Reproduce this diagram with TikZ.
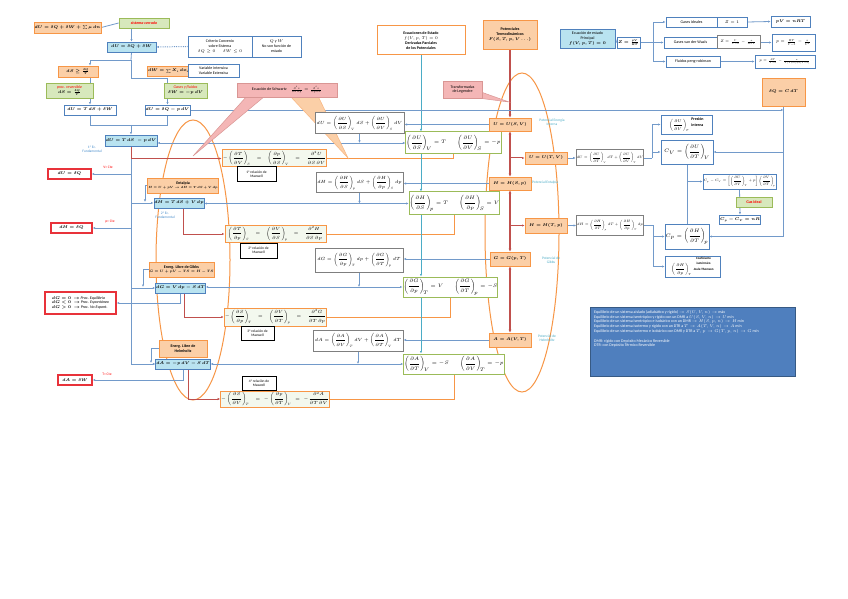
\RequirePackage{fix-cm}
\documentclass[tikz,border=0pt]{standalone}
\usepackage{amsmath}
\usepackage{fontspec}
\setmainfont{Carlito}
\usetikzlibrary{arrows.meta}
\pgfdeclarelayer{bg}
\pgfsetlayers{bg,main}
\definecolor{orgF}{HTML}{FBCFA7}
\definecolor{orgB}{HTML}{F79646}
\definecolor{cynF}{HTML}{B9E3F0}
\definecolor{bluB}{HTML}{4F81BD}
\definecolor{grnF}{HTML}{D7E8BC}
\definecolor{grnB}{HTML}{9BBB59}
\definecolor{redB}{HTML}{E8323A}
\definecolor{redL}{HTML}{C0504D}
\definecolor{mxF}{HTML}{F3F8EE}
\definecolor{gryB}{HTML}{7F7F7F}
\definecolor{pnkF}{HTML}{F4B6B6}
\definecolor{pnkB}{HTML}{D99694}
\definecolor{cyanL}{HTML}{4BACC6}
\definecolor{lblu}{HTML}{4A8FCC}
\definecolor{boxF}{HTML}{4F7FBE}
\newcommand\pdr[3]{\left(\dfrac{\partial #1}{\partial #2}\right)_{\!#3}}
\newcommand\mybox[7]{\node[#2,minimum width={(#5-#3)*1bp},minimum height={(#6-#4)*1bp}] (#1) at ({(#3+#5)/2},{(#4+#6)/2}) {#7};}
\tikzset{
 f3/.style={font=\fontsize{3.2}{3.8}\selectfont},
 f35/.style={font=\fontsize{3.6}{4.3}\selectfont},
 f4/.style={font=\fontsize{4}{4.9}\selectfont},
 bm4/.style={font=\fontsize{4}{4.9}\selectfont\boldmath},
 f45/.style={font=\fontsize{4.5}{5.4}\selectfont},
 f5/.style={font=\fontsize{5}{6}\selectfont},
 base/.style={draw, inner sep=0.5bp, align=center, f4, line width=0.8bp},
 org/.style={base, draw=orgB, fill=orgF, bm4},
 orw/.style={base, draw=orgB, fill=white, line width=1bp},
 cyn/.style={base, draw=bluB, fill=cynF, bm4},
 blu/.style={base, draw=bluB, fill=white},
 grn/.style={base, draw=grnB, fill=grnF, bm4},
 redbox/.style={base, draw=redB, fill=white, line width=1.3bp, bm4},
 mx/.style={base, draw=orgB, fill=mxF, line width=1bp, f45},
 gry/.style={base, draw=gryB, fill=white, line width=1bp, f45},
 gbox/.style={base, draw=grnB, fill=white, line width=1bp, f5},
 lbl/.style={base, draw=black, fill=white, line width=1bp, f35},
 pnk/.style={base, draw=pnkB, fill=pnkF, line width=0.5bp},
 txt/.style={inner sep=0pt, align=center, f35},
 conn/.style={draw=bluB!80, line width=0.8bp},
 arr/.style={conn, -{Latex[length=2.5bp,width=2.2bp]}},
 darr/.style={conn, {Latex[length=2.5bp,width=2.2bp]}-{Latex[length=2.5bp,width=2.2bp]}},
 redl/.style={draw=redL, line width=1bp},
 redarr/.style={draw=redL, line width=1.6bp, {Latex[length=3bp,width=3bp]}-{Latex[length=3bp,width=3bp]}},
 orl/.style={draw=orgB, line width=1bp},
}
\begin{document}
\begin{tikzpicture}[x=1bp,y=-1bp]
\useasboundingbox (0,0) rectangle (848,599);
% callout wedges (behind nodes)
\fill[pnkF, draw=pnkB, line width=0.5bp] (247,96) -- (193,156) -- (265,96) -- cycle;
\fill[orgF, draw=orgB!70, line width=0.5bp] (290,96) -- (348,158) -- (318,96) -- cycle;
\fill[pnkF, draw=pnkB, line width=0.5bp] (470,97) -- (509,102) -- (481,92) -- cycle;

% ---------- left column ----------
\mybox{eq0}{org}{35}{22}{100}{33}{$dU=\delta Q+\delta W+\sum\mu\,dn$}
\mybox{sc}{grn}{119}{18}{169}{28}{\textcolor{red}{\itshape\bfseries sistema cerrado}}
\mybox{eq1}{cyn}{107}{42}{156}{52}{$dU=\delta Q+\delta W$}
\mybox{crit}{blu}{188}{36}{252}{57}{Criterio Convenio\\sobre Sistema\\$\delta Q\ge0\qquad\delta W\le0$}
\mybox{qw}{blu}{252}{36}{301}{57}{$Q$ y $W$\\No son función de\\estado}
\mybox{ds}{org}{58}{66}{98}{77}{$dS\ge\frac{\delta Q}{T}$}
\mybox{dw}{org}{150}{66}{187}{76}{$dW=\sum X_i\,dx_i$}
\mybox{vi}{blu}{188}{64}{239}{77}{Variable intensiva\\Variable Extensiva}
\mybox{pr}{grn}{46}{83}{93}{98}{\textcolor{red}{\itshape proc. reversible}\\$dS=\frac{\delta Q}{T}$}
\mybox{gf}{grn}{164}{83}{207}{98}{\textcolor{red}{\itshape Gases y fluidos}\\$\delta W=-p\,dV$}
\mybox{e2}{blu, bm4}{64}{105}{116}{115}{$dU=T\,dS+\delta W$}
\mybox{e3}{blu, bm4}{145}{105}{190}{115}{$dU=\delta Q-p\,dV$}
\mybox{f1}{cyn}{105}{135}{157}{146}{$dU=T\,dS\;-p\,dV$}
\node[txt, text=lblu] (l1f) at (92,149) {1ª Ec.\\Fundamental};
\mybox{rU}{redbox}{48}{169}{91}{179}{$dU=\delta Q$}
\node[txt, text=red] (vc) at (108,167) {V= Cte};
\mybox{ent}{org}{158}{178}{208}{193}{\textbf{Entalpía}\\{\fontsize{3}{3.5}\selectfont$H=U+pV\to dH=T\,dS+V\,dp$}}
\mybox{f2}{cyn}{158}{198}{200}{208}{$dH=T\,dS+V\,dp$}
\node[txt, text=lblu] (l2f) at (165,215) {2ª Ec.\\Fundamental};
\mybox{rH}{redbox}{51}{223}{92}{233}{$dH=\delta Q$}
\node[txt, text=red] (pc) at (110,222) {p= Cte};
\mybox{gib}{org}{158}{262}{205}{277}{\textbf{Energ. Libre de Gibbs}\\{\fontsize{3.3}{3.8}\selectfont$G=U+pV-TS=H-TS$}}
\mybox{f3}{cyn}{158}{283}{203}{293}{$dG=V\,dp-S\,dT$}
\mybox{rG}{redbox}{45}{292}{116}{314}{\begin{tabular}{@{}l@{}}$dG=0\ \to$ \textit{Proc. Equilibrio}\\ $dG<0\ \to$ \textit{Proc. Espontáneo}\\ $dG>0\ \to$ \textit{Proc. No Espont.}\end{tabular}}
\mybox{hel}{org}{159}{340}{207}{357}{\textbf{Energ. Libre de}\\\textbf{Helmholtz}}
\mybox{f4}{cyn}{158}{359}{208}{369}{$dA=-p\,dV-S\,dT$}
\mybox{rA}{redbox}{58}{375}{92}{385}{$dA=\delta W$}
\node[txt, text=red] (tc) at (107,374) {T= Cte};

% ---------- Maxwell ----------
\mybox{m1}{mx}{224}{150}{325}{167}{$-\pdr{T}{V}{S}\quad=\quad\pdr{p}{S}{V}\quad=\quad\dfrac{\partial^2 U}{\partial S\,\partial V}$}
\mybox{l1}{lbl}{237}{167}{276}{182}{1ª relación de\\Maxwell}
\mybox{m2}{mx}{225}{226}{326}{242}{$\pdr{T}{p}{S}\quad=\quad\pdr{V}{S}{p}\quad=\quad\dfrac{\partial^2 H}{\partial S\,\partial p}$}
\mybox{l2}{lbl}{240}{243}{277}{258}{2ª relación de\\Maxwell}
\mybox{m3}{mx}{226}{308}{325}{326}{$-\pdr{S}{p}{T}\quad=\quad\pdr{V}{T}{p}\quad=\quad\dfrac{\partial^2 G}{\partial T\,\partial p}$}
\mybox{l3}{lbl}{241}{326}{274}{340}{3ª relación de\\Maxwell}
\mybox{m4}{mx}{225}{391}{325}{407}{$-\pdr{S}{V}{T}\quad=\;-\pdr{p}{T}{V}\;=\;-\dfrac{\partial^2 A}{\partial T\,\partial V}$}
\mybox{l4}{lbl}{242}{376}{276}{390}{4ª relación de\\Maxwell}

% ---------- differential forms ----------
\mybox{d1}{gry}{315}{113}{404}{134}{$dU=\pdr{U}{S}{V}dS+\pdr{U}{V}{S}dV$}
\mybox{d2}{gry}{316}{173}{403}{193}{$dH=\pdr{H}{S}{p}dS+\pdr{H}{p}{S}dp$}
\mybox{d3}{gry}{315}{248}{403}{272}{$dG=\pdr{G}{p}{T}dp+\pdr{G}{T}{p}dT$}
\mybox{d4}{gry}{313}{330}{403}{351}{$dA=\pdr{A}{V}{T}dV+\pdr{A}{T}{V}dT$}

\mybox{g1}{gbox}{412}{132}{495}{154}{$\pdr{U}{S}{V}=T\qquad\pdr{U}{V}{S}=-p$}
\mybox{g2}{gbox}{412}{192}{497}{215}{$\pdr{H}{S}{p}=T\qquad\pdr{H}{p}{S}=V$}
\mybox{g3}{gbox}{409}{277}{492}{297}{$\pdr{G}{p}{T}=V\qquad\pdr{G}{T}{p}=-S$}
\mybox{g4}{gbox}{412}{354}{496}{374}{$\pdr{A}{T}{V}=-S\qquad\pdr{A}{V}{T}=-p$}

% ---------- top centre ----------
\mybox{ee}{orw}{377}{26}{465}{55}{\textbf{Ecuaciones de Estado}\\$f(V,p,T)=0$\\\textbf{Derivadas Parciales}\\\textbf{de los Potenciales}}
\mybox{pt}{org}{483}{20}{537}{49}{\textbf{Potenciales}\\\textbf{Termodinámicos}\\$F(S,T,p,V\ldots)$}
\mybox{leg}{pnk}{443}{81}{482}{98}{Transformadas\\de Legendre}
\mybox{sch}{pnk}{237}{83}{337}{97}{Ecuación de Schwartz\quad $\frac{\partial^2 z}{\partial x\,\partial y}=\frac{\partial^2 z}{\partial y\,\partial x}$}

% ---------- potentials ----------
\mybox{pU}{org}{489}{118}{531}{131}{$U=U(S,V)$}
\mybox{pH}{org}{489}{177}{531}{190}{$H=H(S,p)$}
\mybox{pG}{org}{490}{252}{530}{266}{$G=G(p,T)$}
\mybox{pA}{org}{489}{333}{531}{347}{$A=A(V,T)$}
\node[txt, text=cyanL] (lpU) at (552,122) {Potencial Energía\\Interna};
\node[txt, text=cyanL, anchor=west] (lpH) at (532,182.5) {Potencial Entalpía};
\node[txt, text=cyanL] (lpG) at (551,260) {Potencial de\\Gibbs};
\node[txt, text=cyanL] (lpA) at (547,338) {Potencial de\\Helmholtz};
\mybox{pUT}{org}{525}{152}{567}{164}{$U=U(T,V)$}
\mybox{pHT}{org}{525}{218}{567}{233}{$H=H(T,p)$}

% ---------- right ----------
\mybox{dUT}{gry}{578}{150}{642}{166}{\fontsize{3.4}{4}\selectfont$dU=\pdr{U}{T}{V}dT+\pdr{U}{V}{T}dV$}
\mybox{dHT}{gry}{578}{216}{642}{235}{\fontsize{3.4}{4}\selectfont$dH=\pdr{H}{T}{p}dT+\pdr{H}{p}{T}dp$}
\mybox{pi}{blu}{661}{115}{712}{134}{$\pdr{U}{V}{T}$\enspace\textbf{\shortstack{Presión\\interna}}}
\mybox{cv}{blu}{661}{140}{713}{164}{\fontsize{5}{6}\selectfont$C_V=\pdr{U}{T}{V}$}
\mybox{cpcv}{blu}{706}{174}{773}{189}{\fontsize{3.4}{4}\selectfont$C_p-C_V=\left[\pdr{U}{V}{T}+p\right]\pdr{V}{T}{p}$}
\mybox{gi}{grn}{736}{197}{772}{207}{\textcolor{red}{\bfseries Gas ideal}}
\mybox{nr}{blu, bm4}{723}{215}{757}{224}{$C_p-C_V=nR$}
\mybox{cp}{blu}{665}{224}{709}{249}{\fontsize{5}{6}\selectfont$C_p=\pdr{H}{T}{p}$}
\mybox{jt}{blu}{665}{256}{720}{277}{$\pdr{H}{p}{T}$\enspace{\fontsize{3.2}{3.6}\selectfont\bfseries\shortstack{Coeficiente\\isotérmico\\Joule-Thomson}}}
\mybox{dq}{org}{762}{78}{805}{106}{$\delta Q=C\,dT$}

% ---------- top right ----------
\mybox{ep}{cyn}{560}{29}{615}{48}{Ecuación de estado\\Principal\\$f(V,p,T)=0$}
\mybox{z}{blu, bm4}{617}{37}{640}{48}{$Z=\frac{pV}{RT}$}
\mybox{gid}{blu}{666}{17}{717}{27}{Gases ideales}
\mybox{z1}{blu}{717}{17}{747}{27}{$Z=1$}
\mybox{pvn}{blu, bm4}{771}{16}{810}{27}{$pV=nRT$}
\mybox{gvw}{blu}{664}{37}{717}{48}{Gases van der Waals}
\mybox{zvw}{gry}{717}{36}{760}{49}{\fontsize{3.6}{4}\selectfont$Z=\frac{V}{V-b}-\frac{a}{RTV}$}
\mybox{pvw}{blu}{772}{34}{815}{51}{$p=\frac{RT}{V-b}-\frac{a}{V^2}$}
\mybox{gpr}{blu}{666}{56}{720}{67}{Fluidos peng-robinson}
\mybox{ppr}{blu}{755}{55}{815}{68}{\fontsize{3.4}{4}\selectfont$p=\frac{RT}{V-b}-\frac{a}{V(V+b)+b(V-b)}$}

% ---------- blue text box ----------
\node[fill=boxF, draw=bluB!70!black, line width=0.8bp, minimum width=205bp, minimum height=69bp, anchor=north west, inner sep=0pt] (eqbox) at (590,307) {};
\node[anchor=north west, text=white, f4, align=left, inner sep=0pt] (eqtxt) at (594,310) {Equilibrio de un sistema aislado (adiabático y rígido) $\to S(U,V,n)\to$ máx\\
Equilibrio de un sistema isentrópico y rígido con un DMR a $U(S,V,n)\to U$ mín\\
Equilibrio de un sistema isentrópico e isobárico con un DMR $\to H(S,p,n)\to H$ mín\\
Equilibrio de un sistema isotermo y rígido con un DTR a $T\to A(T,V,n)\to A$ mín\\
Equilibrio de un sistema isotermo e isobárico con DMR y DTR a $T,p\to G(T,p,n)\to G$ mín\\[4.5bp]
DMR: rígido con Depósito Mecánico Reversible\\
DTR: con Depósito Térmico Reversible};

% ---------- connectors ----------
\begin{pgfonlayer}{bg}
\fill[white] (0,0) rectangle (848,599);
\draw[orl] (193,260) ellipse [x radius=37bp, y radius=140bp];
\draw[orl] (522,232.5) ellipse [x radius=37bp, y radius=159.5bp];
\coordinate (j0) at (131,60);
\coordinate (j1) at (131,78);
\coordinate (j2) at (131,125);
\draw[conn] (eq0.east) -- (sc.west);
\draw[arr] (sc.south -| eq1.north) -- (eq1.north);
\draw[arr, densely dotted, line width=1bp] (crit.west) -- (eq1.east);
\draw[conn] (eq1.south) -- (j0);
\draw[arr] (j0) -| (e2.north |- ds.north);
\draw[arr] (e2.north |- ds.south) -- (e2.north);
\draw[arr] (j0) -- (j1) -| (e3.north);
\draw[conn] (e2.south) |- (j2);
\draw[conn] (e3.south) |- (j2);
\draw[arr] (j2) -- (f1.north);
% trunk
\draw[arr] (f1.south) |- (f4.west);
\draw[arr] (f1.south |- rU.east) -- (rU.east);
\draw[arr] (f1.south |- f2.west) -- (f2.west);
\draw[arr] (f1.south |- rH.east) -- (rH.east);
\draw[arr] (f1.south |- f3.west) -- (f3.west);
\draw[arr] (f3.south) |- (rG.east);
\draw[arr] (f4.south) |- (rA.east);
\coordinate (be) at (145,202);
\coordinate (bg) at (143,287);
\coordinate (bh) at (151,363);
\draw[arr] (ent.west) -| (be);
\draw[arr] (gib.west) -| (bg);
\draw[arr] (hel.west) -| (bh);
% red to Maxwell
\draw[redl, -{Latex[length=2.5bp,width=2.2bp]}] (f1.south) |- (m1.west);
\draw[redl, -{Latex[length=2.5bp,width=2.2bp]}] ([xshift=4bp]f2.south) |- (m2.west);
\draw[redl, -{Latex[length=2.5bp,width=2.2bp]}] ([xshift=4bp]f3.south) |- (m3.west);
\draw[redl, -{Latex[length=2.5bp,width=2.2bp]}] ([xshift=5bp]f4.south) |- (m4.west);
% orange Maxwell to G
\draw[orl] (m1.east) -| (g1.south);
\draw[orl] (m2.east) -| (g2.south);
\draw[orl] (m3.east) -| (g3.south);
\draw[orl] (m4.east) -| (g4.south);
% fundamentals to G boxes
\draw[darr] (f1.east |- g1.west) -- (g1.west);
\draw[darr] (f2.east |- g2.west) -- (g2.west);
\draw[darr] (f3.east |- g3.west) -- (g3.west);
\draw[darr] (f4.east |- g4.west) -- (g4.west);
\draw[arr] (d1.south) -- (d1.south |- g1.west);
\draw[arr] (d2.south) -- (d2.south |- g2.west);
\draw[arr] (d3.south) -- (d3.south |- g3.west);
\draw[arr] (d4.south) -- (d4.south |- g4.west);
% potentials to differentials
\draw[arr] (pU.west) -- (d1.east |- pU.west);
\draw[arr] (pH.west) -- (d2.east |- pH.west);
\draw[arr] (pG.west) -- (d3.east |- pG.west);
\draw[arr] (pA.west) -- (d4.east |- pA.west);
% state equations (cyan)
\draw[arr, draw=cyanL] (ee.south) -- (ee.south |- g1.north);
\draw[arr, draw=cyanL] (ee.south |- g1.south) -- (ee.south |- g2.north);
\draw[arr, draw=cyanL] (ee.south |- g2.south) -- (ee.south |- g3.north);
\draw[arr, draw=cyanL] (ee.south |- g3.south) -- (ee.south |- g4.north);
% potentials chain (red)
\draw[redl, line width=1.2bp, -{Latex[length=3bp,width=3bp]}] (pt.south) -- (pt.south |- pU.north);
\draw[redarr] (pU.south) -- (pH.north);
\draw[redarr] (pH.south) -- (pG.north);
\draw[redarr] (pG.south) -- (pA.north);
\draw[redl, -{Latex[length=2.5bp,width=2.2bp]}] (pU.south |- pUT.west) -- (pUT.west);
\draw[redl, -{Latex[length=2.5bp,width=2.2bp]}] (pU.south |- pHT.west) -- (pHT.west);
\draw[arr] (pUT.east) -- (dUT.west |- pUT.east);
\draw[arr] (pHT.east) -- (dHT.west |- pHT.east);
% long top line
\draw[arr] (e3.east) -- (dq.south |- e3.east);
\draw[conn] (dq.south) -- (dq.south |- cp.east);
\draw[arr] (dq.south |- cv.east) -- (cv.east);
\draw[arr] (dq.south |- cp.east) -- (cp.east);
% right side
\coordinate (ju) at (652,158);
\coordinate (jh) at (653,225.5);
\draw[conn] (dUT.east) -- (ju);
\draw[arr] (ju) |- (pi.west);
\draw[arr] (ju |- cv.west) -- (cv.west);
\draw[conn] (dHT.east) -- (jh);
\draw[arr] (jh) |- (cp.west);
\draw[arr] (jh) |- (jt.west);
\draw[conn] (cv.south) -- (cv.south |- cp.north);
\draw[arr] (cv.south |- cpcv.west) -- (cpcv.west);
\draw[arr] (cpcv.south) -- (nr.north);
% top right
\coordinate (jz) at (653,42.5);
\draw[conn] (ep.east) -- (z.west);
\draw[conn] (z.east) -- (jz);
\draw[arr] (jz) |- (gid.west);
\draw[arr] (jz) -- (gvw.west);
\draw[arr] (jz) |- (gpr.west);
\draw[arr] (z1.east) -- (pvn.west);
\draw[arr] (zvw.east) -- (pvw.west);
\draw[arr] (gpr.east) -- (ppr.west);
\end{pgfonlayer}
\end{tikzpicture}
\end{document}
